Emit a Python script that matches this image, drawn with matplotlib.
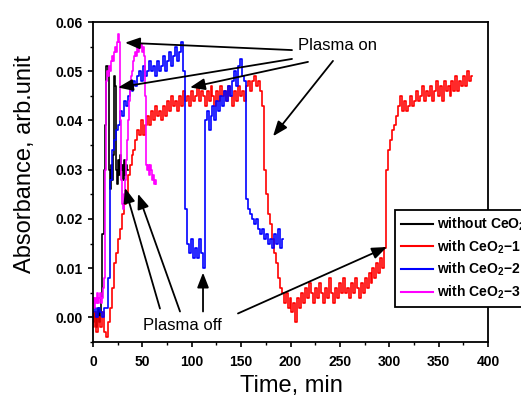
import numpy as np
import matplotlib
matplotlib.use("Agg")
import matplotlib.pyplot as plt
from matplotlib.ticker import MultipleLocator, FormatStrFormatter

plt.rcParams['font.family'] = ['Liberation Sans', 'DejaVu Sans']
plt.rcParams['mathtext.fontset'] = 'custom'
plt.rcParams['mathtext.rm'] = 'Liberation Sans:bold'
plt.rcParams['mathtext.it'] = 'Liberation Sans:bold'
plt.rcParams['mathtext.default'] = 'rm'

# --- data (time in min, absorbance in arb. unit) ---
t_black = np.arange(0, 36, 1)
a_black = [0.001, -0.001, 0.000, 0.001, -0.002, 0.000, 0.002, -0.001, 0.001, 0.004,
           0.017, 0.017, 0.030, 0.039, 0.051, 0.051, 0.050, 0.030, 0.026, 0.031,
           0.028, 0.033, 0.049, 0.047, 0.030, 0.027, 0.032, 0.029, 0.033, 0.030,
           0.031, 0.028, 0.032, 0.029, 0.031, 0.030]

t_red = np.arange(0, 386, 2)
a_red = [-0.002, 0.001, -0.003, 0.000, -0.002, 0.001, -0.003, -0.004, -0.001, 0.002,
         0.006, 0.011, 0.013, 0.016, 0.018, 0.021, 0.023, 0.025, 0.029, 0.031,
         0.033, 0.034, 0.036, 0.038, 0.037, 0.040, 0.037, 0.039, 0.041, 0.039,
         0.042, 0.040, 0.043, 0.041, 0.042, 0.040, 0.043, 0.041, 0.044, 0.042,
         0.045, 0.043, 0.044, 0.042, 0.045, 0.043, 0.046, 0.044, 0.045, 0.043,
         0.046, 0.044, 0.045, 0.047, 0.044, 0.046, 0.045, 0.043, 0.046, 0.044,
         0.047, 0.045, 0.043, 0.046, 0.044, 0.047, 0.045, 0.046, 0.044, 0.047,
         0.045, 0.043, 0.046, 0.044, 0.047, 0.045, 0.046, 0.044, 0.047, 0.048,
         0.046, 0.048, 0.049, 0.047, 0.048, 0.046, 0.043, 0.030, 0.025, 0.021,
         0.019, 0.016, 0.013, 0.011, 0.008, 0.006, 0.005, 0.003, 0.005, 0.002,
         0.004, 0.001, 0.003, -0.001, 0.004, 0.002, 0.005, 0.003, 0.006, 0.004,
         0.007, 0.005, 0.003, 0.006, 0.004, 0.007, 0.005, 0.003, 0.006, 0.004,
         0.008, 0.005, 0.003, 0.006, 0.004, 0.007, 0.005, 0.008, 0.005, 0.006,
         0.004, 0.007, 0.005, 0.008, 0.006, 0.004, 0.007, 0.005, 0.008, 0.006,
         0.009, 0.007, 0.010, 0.008, 0.011, 0.009, 0.012, 0.010, 0.014, 0.030,
         0.034, 0.036, 0.038, 0.039, 0.041, 0.043, 0.045, 0.042, 0.044, 0.042,
         0.043, 0.045, 0.043, 0.044, 0.046, 0.044, 0.045, 0.047, 0.044, 0.046,
         0.045, 0.047, 0.044, 0.046, 0.048, 0.045, 0.047, 0.044, 0.048, 0.046,
         0.047, 0.045, 0.048, 0.046, 0.049, 0.046, 0.048, 0.047, 0.049, 0.047,
         0.050, 0.048, 0.049]

t_blue = np.arange(0, 194, 2)
a_blue = [0.001, 0.002, 0.000, 0.002, 0.001, 0.000, 0.002, 0.002, 0.008, 0.028,
          0.034, 0.036, 0.038, 0.039, 0.042, 0.041, 0.044, 0.043, 0.045, 0.047,
          0.046, 0.048, 0.047, 0.049, 0.050, 0.048, 0.051, 0.049, 0.050, 0.052,
          0.050, 0.051, 0.049, 0.052, 0.050, 0.051, 0.053, 0.050, 0.052, 0.054,
          0.051, 0.053, 0.055, 0.052, 0.054, 0.056, 0.050, 0.022, 0.015, 0.013,
          0.016, 0.012, 0.014, 0.012, 0.016, 0.013, 0.010, 0.040, 0.042, 0.038,
          0.041, 0.043, 0.040, 0.044, 0.042, 0.045, 0.043, 0.046, 0.044, 0.047,
          0.045, 0.048, 0.050, 0.047, 0.051, 0.0525, 0.049, 0.048, 0.024, 0.022,
          0.021, 0.020, 0.019, 0.020, 0.018, 0.017, 0.018, 0.016, 0.017, 0.015,
          0.016, 0.014, 0.017, 0.015, 0.018, 0.014, 0.016]

t_mag = np.arange(0, 65, 1)
a_mag = [0.003, 0.004, 0.002, 0.004, 0.003, 0.005, 0.003, 0.004, 0.005, 0.003,
         0.004, 0.006, 0.008, 0.030, 0.048, 0.050, 0.049, 0.051, 0.050, 0.052,
         0.053, 0.052, 0.054, 0.055, 0.054, 0.056, 0.0575, 0.056, 0.040, 0.028,
         0.023, 0.022, 0.025, 0.028, 0.032, 0.036, 0.040, 0.044, 0.047, 0.049,
         0.050, 0.052, 0.053, 0.054, 0.053, 0.055, 0.054, 0.056, 0.055, 0.0555,
         0.054, 0.055, 0.053, 0.045, 0.031, 0.030, 0.031, 0.029, 0.031, 0.030,
         0.028, 0.029, 0.027, 0.028, 0.027]

labels = ["without CeO$_2$", "with CeO$_2$\u22121", "with CeO$_2$\u22122", "with CeO$_2$\u22123"]

fig = plt.figure(figsize=(5.21, 4.01), dpi=100)
ax = fig.add_axes([0.1785, 0.1471, 0.7582, 0.798])

lw = 1.2
ax.plot(t_black, a_black, color='black', lw=lw, drawstyle='steps-mid', label=labels[0])
ax.plot(t_red, a_red, color='#ff0000', lw=lw, drawstyle='steps-mid', label=labels[1])
ax.plot(t_blue, a_blue, color='#0000ff', lw=lw, drawstyle='steps-mid', label=labels[2])
ax.plot(t_mag, a_mag, color='#ff00ff', lw=lw, drawstyle='steps-mid', label=labels[3])

ax.set_xlim(0, 400)
ax.set_ylim(-0.005, 0.06)
ax.xaxis.set_major_locator(MultipleLocator(50))
ax.xaxis.set_minor_locator(MultipleLocator(25))
ax.yaxis.set_major_locator(MultipleLocator(0.01))
ax.yaxis.set_minor_locator(MultipleLocator(0.005))
ax.yaxis.set_major_formatter(FormatStrFormatter('%.2f'))
ax.tick_params(which='major', direction='out', length=3.5, width=1.2, labelsize=10, pad=4)
ax.tick_params(which='minor', direction='out', length=2, width=1.0)
ax.tick_params(axis='x', which='major', pad=6)
for lab in ax.get_xticklabels() + ax.get_yticklabels():
    lab.set_fontweight('bold')
for sp in ax.spines.values():
    sp.set_linewidth(1.3)

# arrows
arrow_kw = dict(arrowstyle='-|>,head_length=0.9,head_width=0.35', color='black',
                lw=1.3, mutation_scale=10, shrinkA=0, shrinkB=0)
on_tails = [(201.5, 0.0543), (201.5, 0.0525), (217.7, 0.0519), (243.0, 0.0521)]
on_heads = [(32.4, 0.0558), (25.3, 0.0467), (98.2, 0.0467), (182.3, 0.0368)]
off_tails = [(67.8, 0.0018), (88.1, 0.0012), (111.4, 0.0012), (146.8, 0.0008)]
off_heads = [(32.4, 0.0263), (45.6, 0.0251), (111.4, 0.0091), (297.7, 0.0143)]
for tail, head in zip(on_tails + off_tails, on_heads + off_heads):
    ax.annotate('', xy=head, xytext=tail, arrowprops=arrow_kw)

ax.text(208, 0.0553, 'Plasma on', fontsize=12, ha='left', va='center')
ax.text(50.6, -0.0016, 'Plasma off', fontsize=12, ha='left', va='center')

# legend runs past the right edge of the figure, as in the original
leg = ax.legend(loc='upper left', bbox_to_anchor=(0.7646, 0.4125), borderaxespad=0,
                fancybox=False, framealpha=1, edgecolor='black',
                handlelength=2.3, handletextpad=0.35, borderpad=0.4, labelspacing=0.38,
                prop={'weight': 'bold', 'size': 10})
leg.get_frame().set_linewidth(1.3)
for line in leg.get_lines():
    line.set_linewidth(1.5)

fig.text(0.048, 0.591, 'Absorbance, arb.unit', rotation=90, fontsize=17,
         ha='center', va='center')
fig.text(0.5585, 0.0374, 'Time, min', fontsize=17, ha='center', va='center')

fig.savefig('out.png', dpi=100)
